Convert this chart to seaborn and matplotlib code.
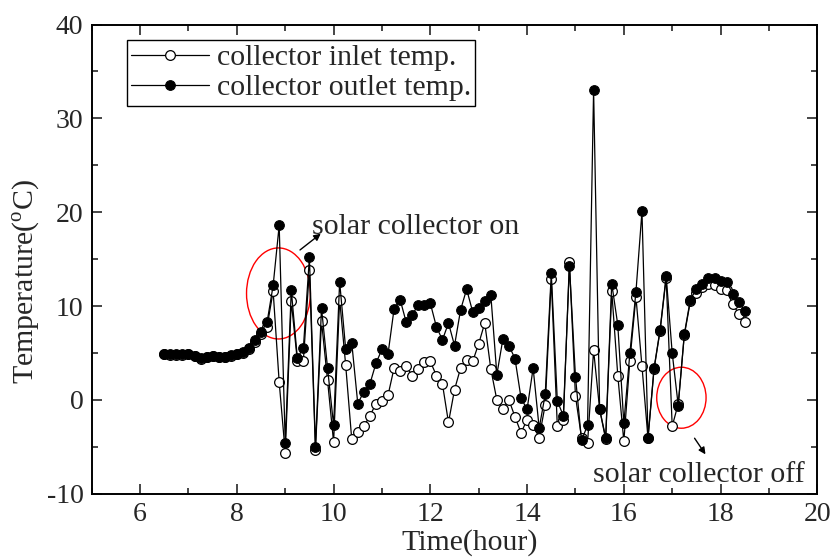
# collector inlet / outlet temperature over one day
import numpy as np
import pandas as pd
import matplotlib
matplotlib.use("Agg")
import matplotlib.pyplot as plt
from matplotlib.patches import Ellipse
from matplotlib.ticker import MultipleLocator
import seaborn as sns

# sampling every 7.5 min from 6:30 to 18:30
time_h = np.arange(6.5, 18.5 + 0.01, 0.125)

inlet_temp = [4.9, 4.8, 4.8, 4.8, 4.9, 4.65, 4.4, 4.6, 4.65, 4.6, 4.6, 4.7, 4.85, 5.0, 5.4, 6.2, 7.0,
              7.8, 11.6, 1.9, -5.6, 10.5, 4.2, 4.2, 13.9, -5.3, 8.4, 2.1, -4.5, 10.7, 3.7, -4.2,
              -3.4, -2.8, -1.7, -0.4, -0.1, 0.5, 3.4, 3.1, 3.6, 2.6, 3.3, 4.0, 4.1, 2.6, 1.7, -2.4,
              1.1, 3.4, 4.3, 4.1, 6.0, 8.2, 3.3, 0.0, -1.0, 0.0, -1.8, -3.5, -2.1, -2.7, -4.0, -0.5,
              12.9, -2.8, -2.1, 14.7, 0.4, -4.0, -4.6, 5.3, -1.0, -4.2, 11.6, 2.6, -4.4, 4.2, 11.0,
              3.6, -4.1, 3.3, 7.4, 13.0, -2.8, -0.4, 6.9, 10.5, 11.4, 12.0, 12.4, 12.3, 11.8, 11.7,
              10.2, 9.2, 8.3]

outlet_temp = [4.95, 4.87, 4.87, 4.87, 4.94, 4.7, 4.45, 4.63, 4.7, 4.63, 4.63, 4.77, 4.94, 5.1, 5.5, 6.4, 7.2,
               8.3, 12.2, 18.6, -4.6, 11.7, 4.5, 5.5, 15.2, -5.0, 9.8, 3.4, -2.7, 12.6, 5.4, 6.1,
               -0.4, 0.9, 1.7, 3.9, 5.4, 4.9, 9.7, 10.7, 8.3, 9.1, 10.1, 10.1, 10.3, 7.8, 6.4, 8.2,
               5.8, 9.6, 11.8, 9.4, 9.8, 10.5, 11.2, 2.7, 6.5, 5.8, 4.4, 0.2, -1.0, 3.4, -3.0, 0.6,
               13.5, -0.1, -1.7, 14.3, 2.5, -4.3, -2.7, 33.0, -1.0, -4.0, 12.4, 8.0, -2.5, 5.0, 11.5,
               20.1, -4.0, 3.4, 7.5, 13.2, 5.0, -0.6, 7.0, 10.7, 11.8, 12.4, 13.0, 13.0, 12.7, 12.6,
               11.3, 10.4, 9.5]

df = pd.DataFrame({"time": time_h, "inlet": inlet_temp, "outlet": outlet_temp})

sns.set_style("ticks")
plt.rcParams["font.family"] = ["Liberation Serif", "DejaVu Serif"]
plt.rcParams["mathtext.fontset"] = "custom"
plt.rcParams["mathtext.rm"] = "Liberation Serif"
plt.rcParams["axes.unicode_minus"] = False

fig = plt.figure(figsize=(8.34, 5.58), dpi=100)
ax = fig.add_axes([0.110, 0.115, 0.870, 0.841])

sns.lineplot(data=df, x="time", y="inlet", ax=ax, color="black", lw=0.9,
             marker="o", markersize=7, markerfacecolor="white", markeredgecolor="black",
             markeredgewidth=0.9, label="collector inlet temp.")
sns.lineplot(data=df, x="time", y="outlet", ax=ax, color="black", lw=0.9,
             marker="o", markersize=7, markerfacecolor="black", markeredgecolor="black",
             label="collector outlet temp.")

# red rings and notes
ax.add_patch(Ellipse((8.86, 11.35), 1.32, 9.7, fill=False, edgecolor="red", lw=1))
ax.add_patch(Ellipse((17.19, 0.24), 1.02, 6.5, fill=False, edgecolor="red", lw=1))
ax.annotate("", xy=(9.78, 17.9), xytext=(9.26, 15.8),
            arrowprops=dict(arrowstyle="-|>", color="black", lw=1, mutation_scale=10))
ax.annotate("", xy=(17.72, -6.04), xytext=(17.43, -3.83),
            arrowprops=dict(arrowstyle="-|>", color="black", lw=1, mutation_scale=10))
ax.text(9.55, 17.7, "solar collector on", fontsize=21.5, va="baseline", ha="left")
ax.text(15.36, -8.7, "solar collector off", fontsize=21.5, va="baseline", ha="left")

ax.set_xlim(5, 20)
ax.set_ylim(-10, 40)
ax.xaxis.set_major_locator(MultipleLocator(2))
ax.xaxis.set_minor_locator(MultipleLocator(1))
ax.yaxis.set_major_locator(MultipleLocator(10))
ax.yaxis.set_minor_locator(MultipleLocator(5))
ax.set_xticks(range(6, 21, 2))
ax.tick_params(which="both", direction="in", top=True, right=True, labelsize=20, width=1.2, pad=6)
ax.tick_params(which="major", length=7)
ax.tick_params(which="minor", length=4)
for sp in ax.spines.values():
    sp.set_linewidth(1.4)
    sp.set_color("black")

ax.set_xlabel("Time(hour)", fontsize=21.5)
ax.xaxis.set_label_coords(0.521, -0.075)
ax.set_ylabel("Temperature($^{\\rm o}$C)", fontsize=21.5)
ax.yaxis.set_label_coords(-0.068, 0.452)

leg = ax.legend(loc="upper left", bbox_to_anchor=(0.048, 0.967), fontsize=21.5, frameon=True,
                fancybox=False, edgecolor="black", framealpha=1, handlelength=2.6,
                borderpad=0.15, labelspacing=0.1, handletextpad=0.27, borderaxespad=0)
leg.get_frame().set_linewidth(1.0)

fig.savefig("out.png", dpi=100)
